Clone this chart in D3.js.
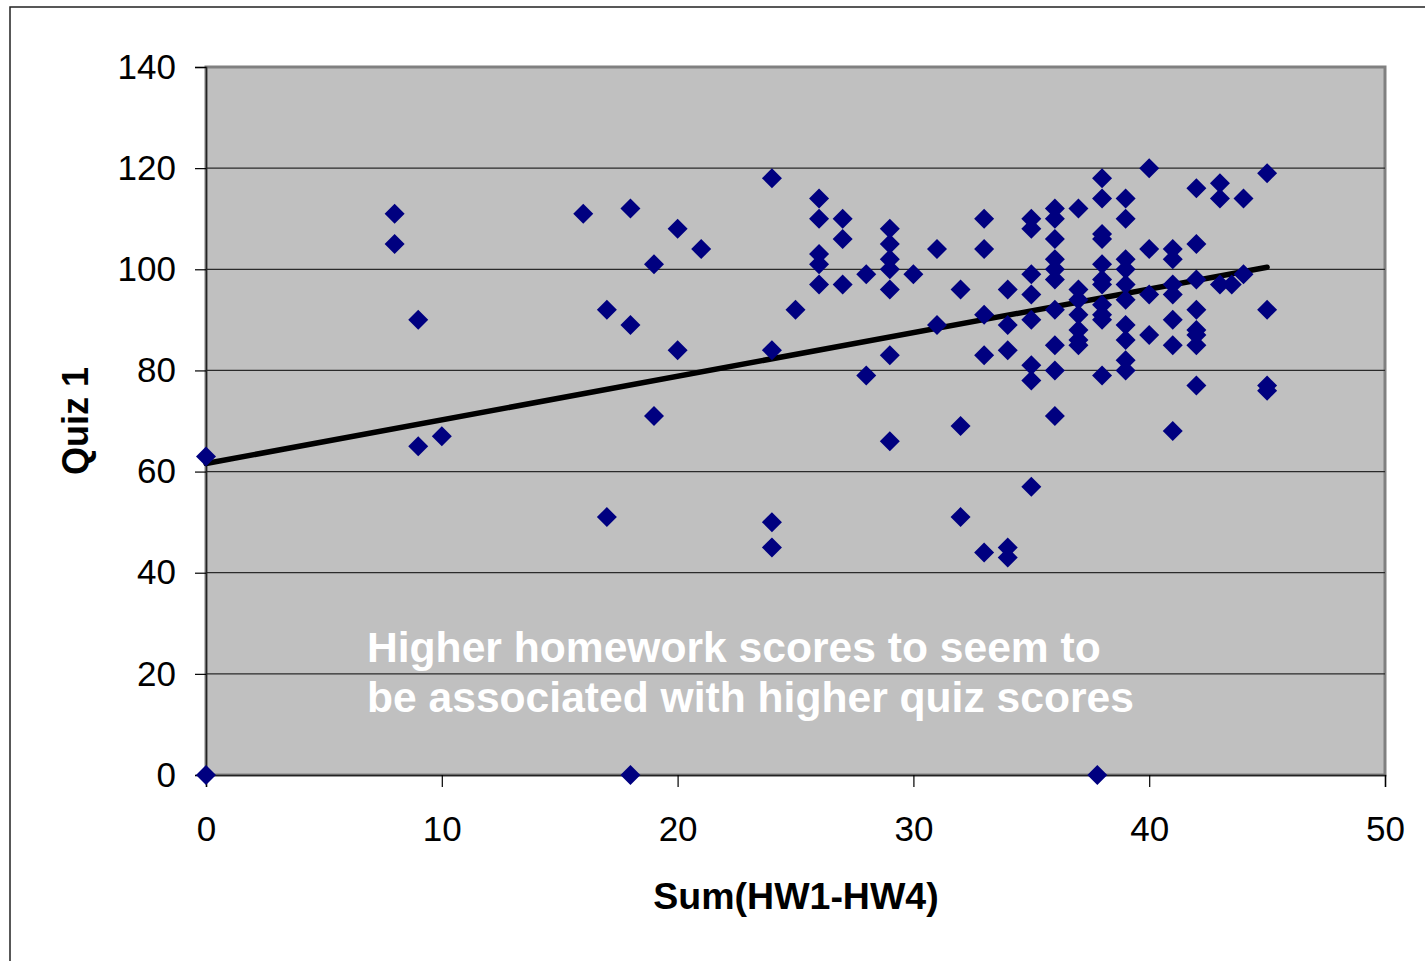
<!DOCTYPE html>
<html>
<head>
<meta charset="utf-8">
<script src="https://cdn.jsdelivr.net/npm/d3@7"></script>
<style>
  body { margin: 0; background: #fff; }
  text { font-family: Arial, "Liberation Sans", sans-serif; }
</style>
</head>
<body>
<div id="scatter"></div>
<script>
// homework sum (x) and quiz 1 score (y)
var hwSum = [
  0, 0,
  8, 8,
  9, 9,
  10,
  16,
  17, 17,
  18, 18, 18,
  19, 19,
  20, 20,
  21,
  24, 24, 24, 24,
  25,
  26, 26, 26, 26, 26,
  27, 27, 27,
  28, 28,
  29, 29, 29, 29, 29, 29, 29,
  30,
  31, 31,
  32, 32, 32,
  33, 33, 33, 33, 33,
  34, 34, 34, 34, 34,
  35, 35, 35, 35, 35, 35, 35, 35,
  36, 36, 36, 36, 36, 36, 36, 36, 36, 36,
  37, 37, 37, 37, 37, 37, 37,
  37.8,
  38, 38, 38, 38, 38, 38, 38, 38, 38, 38, 38,
  39, 39, 39, 39, 39, 39, 39, 39, 39, 39,
  40, 40, 40, 40,
  41, 41, 41, 41, 41, 41, 41,
  42, 42, 42, 42, 42, 42, 42, 42,
  43, 43, 43,
  43.5,
  44, 44,
  45, 45, 45, 45
];
var quiz1 = [
  63, 0,
  111, 105,
  90, 65,
  67,
  111,
  92, 51,
  112, 89, 0,
  101, 71,
  108, 84,
  104,
  118, 84, 50, 45,
  92,
  114, 110, 103, 101, 97,
  110, 106, 97,
  99, 79,
  108, 105, 102, 100, 96, 83, 66,
  99,
  104, 89,
  96, 69, 51,
  110, 104, 91, 83, 44,
  96, 89, 84, 45, 43,
  110, 108, 99, 95, 90, 81, 78, 57,
  112, 110, 106, 102, 100, 98, 92, 85, 80, 71,
  112, 96, 94, 91, 88, 86, 85,
  0,
  118, 114, 107, 106, 101, 98, 97, 93, 91, 90, 79,
  114, 110, 102, 100, 97, 94, 89, 86, 82, 80,
  120, 104, 95, 87,
  104, 102, 97, 95, 90, 85, 68,
  116, 105, 98, 92, 88, 87, 85, 77,
  117, 114, 97,
  97,
  114, 99,
  119, 92, 77, 76
];

// linear trendline end points
var trendX = [0, 45];
var trendY = [61.6, 100.4];

var xTicks = [0, 10, 20, 30, 40, 50];
var yTicks = [0, 20, 40, 60, 80, 100, 120, 140];

var xTitle = 'Sum(HW1-HW4)';
var yTitle = 'Quiz 1';
var note = ['Higher homework scores to seem to', 'be associated with higher quiz scores'];

var svgWidth = 1425;
var svgHeight = 961;

var margin = { top: 67, right: 40, bottom: 186, left: 206 };
var chartWidth = svgWidth - margin.left - margin.right;
var chartHeight = svgHeight - margin.top - margin.bottom;

var svg = d3.select('#scatter').append('svg')
  .attr('width', svgWidth)
  .attr('height', svgHeight);

// outer chart border (runs off the right and bottom edges)
svg.append('rect')
  .attr('x', 10)
  .attr('y', 7)
  .attr('width', svgWidth + 20)
  .attr('height', svgHeight + 20)
  .attr('fill', '#fff')
  .attr('stroke', '#222')
  .attr('stroke-width', 1.5);

var chartGroup = svg.append('g')
  .attr('transform', `translate(${margin.left}, ${margin.top})`);

var xScale = d3.scaleLinear()
  .domain([0, 50])
  .range([0, chartWidth]);

var yScale = d3.scaleLinear()
  .domain([0, 140])
  .range([chartHeight, 0]);

// plot area
chartGroup.append('rect')
  .attr('width', chartWidth)
  .attr('height', chartHeight)
  .attr('fill', '#c0c0c0')
  .attr('stroke', '#808080')
  .attr('stroke-width', 3);

// gridlines
chartGroup.selectAll('line.grid')
  .data(yTicks.slice(1, -1))
  .enter()
  .append('line')
  .attr('class', 'grid')
  .attr('x1', 0)
  .attr('x2', chartWidth)
  .attr('y1', d => yScale(d))
  .attr('y2', d => yScale(d))
  .attr('stroke', '#2a2a2a')
  .attr('stroke-width', 1.2);

// axes
var xAxis = d3.axisBottom(xScale)
  .tickValues(xTicks)
  .tickSize(12)
  .tickPadding(29);
var yAxis = d3.axisLeft(yScale)
  .tickValues(yTicks)
  .tickSize(11)
  .tickPadding(19);

var xg = chartGroup.append('g')
  .attr('transform', `translate(0, ${chartHeight})`)
  .call(xAxis);
var yg = chartGroup.append('g')
  .call(yAxis);

[xg, yg].forEach(function(g) {
  g.select('.domain').attr('stroke', '#222').attr('stroke-width', 1.5);
  g.selectAll('.tick line').attr('stroke', '#000').attr('stroke-width', 1.2);
  g.selectAll('.tick text')
    .attr('fill', '#000')
    .style('font-size', '35px')
    .style('font-family', 'Arial, "Liberation Sans", sans-serif');
});

// trendline
var line = d3.line()
  .x(d => xScale(d[0]))
  .y(d => yScale(d[1]));

chartGroup.append('path')
  .datum(d3.zip(trendX, trendY))
  .attr('d', line)
  .attr('fill', 'none')
  .attr('stroke', '#000')
  .attr('stroke-width', 5.5)
  .attr('stroke-linecap', 'round');

// points
var diamond = d3.symbol().type(d3.symbolSquare).size(200);

chartGroup.selectAll('path.pt')
  .data(d3.zip(hwSum, quiz1))
  .enter()
  .append('path')
  .attr('class', 'pt')
  .attr('d', diamond)
  .attr('transform', d => `translate(${xScale(d[0])}, ${yScale(d[1])}) rotate(45)`)
  .attr('fill', '#000080');

// note inside the plot
chartGroup.selectAll('text.note')
  .data(note)
  .enter()
  .append('text')
  .attr('class', 'note')
  .attr('x', 161)
  .attr('y', (d, i) => 595 + i * 50)
  .attr('fill', '#fff')
  .style('font-size', '42.6px')
  .style('font-weight', 'bold')
  .text(d => d);

// axis titles
svg.append('text')
  .attr('x', 796)
  .attr('y', 909)
  .attr('text-anchor', 'middle')
  .style('font-size', '37.5px')
  .style('font-weight', 'bold')
  .text(xTitle);

svg.append('text')
  .attr('transform', 'translate(88, 421) rotate(-90)')
  .attr('text-anchor', 'middle')
  .style('font-size', '36px')
  .style('font-weight', 'bold')
  .text(yTitle);
</script>
</body>
</html>
